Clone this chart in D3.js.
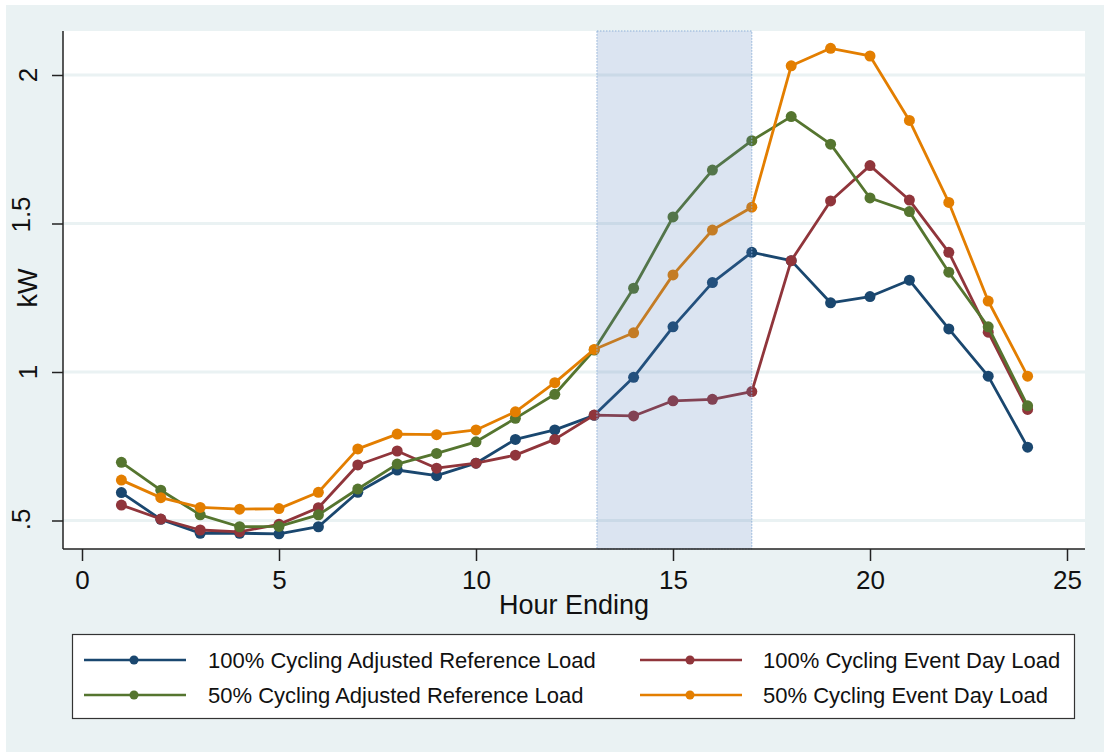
<!DOCTYPE html>
<html>
<head>
<meta charset="utf-8">
<script src="https://cdn.jsdelivr.net/npm/d3@7"></script>
<style>
  body { margin: 0; background: #ffffff; }
  text { font-family: "Liberation Sans", Arial, sans-serif; fill: #111; }
</style>
</head>
<body>
<div id="chart"></div>
<script>
// hours and the four load series (kW)
var hours = d3.range(1, 25);
var adj100 = [0.594, 0.504, 0.457, 0.457, 0.455, 0.479, 0.595, 0.670, 0.651, 0.693, 0.773, 0.805,
              0.854, 0.982, 1.152, 1.301, 1.403, 1.375, 1.233, 1.254, 1.309, 1.145, 0.986, 0.747];
var event100 = [0.552, 0.505, 0.468, 0.462, 0.487, 0.543, 0.687, 0.734, 0.676, 0.693, 0.720, 0.773,
                0.855, 0.852, 0.903, 0.908, 0.934, 1.375, 1.576, 1.695, 1.579, 1.403, 1.134, 0.874];
var adj50 = [0.696, 0.602, 0.519, 0.479, 0.480, 0.519, 0.606, 0.690, 0.726, 0.765, 0.844, 0.925,
             1.074, 1.282, 1.522, 1.680, 1.779, 1.860, 1.767, 1.586, 1.540, 1.336, 1.152, 0.886];
var event50 = [0.636, 0.577, 0.544, 0.538, 0.540, 0.595, 0.741, 0.791, 0.789, 0.805, 0.866, 0.964,
               1.076, 1.132, 1.327, 1.478, 1.555, 2.031, 2.090, 2.064, 1.847, 1.571, 1.239, 0.986];

var seriesNames = ["100% Cycling Adjusted Reference Load", "100% Cycling Event Day Load",
                   "50% Cycling Adjusted Reference Load", "50% Cycling Event Day Load"];
var seriesColors = ["#1a476f", "#90353b", "#55752f", "#e37e00"];
var seriesValues = [adj100, event100, adj50, event50];

var eventWindow = [13.07, 17];   // shaded event period
var xTicks = [0, 5, 10, 15, 20, 25];
var yTicks = [0.5, 1, 1.5, 2];
var yTickLabels = [".5", "1", "1.5", "2"];

var svgWidth = 1104, svgHeight = 752;
var plot = { left: 63, right: 1085, top: 31, bottom: 549 };

var svg = d3.select("#chart").append("svg")
  .attr("width", svgWidth)
  .attr("height", svgHeight);

// outer background
svg.append("rect")
  .attr("x", 6).attr("y", 5)
  .attr("width", svgWidth - 6).attr("height", svgHeight - 5)
  .attr("fill", "#eaf2f3");

// plot region
svg.append("rect")
  .attr("x", plot.left).attr("y", plot.top)
  .attr("width", plot.right - plot.left).attr("height", plot.bottom - plot.top)
  .attr("fill", "#ffffff");

var x = d3.scaleLinear().domain([0, 25]).range([82, 1067]);
var y = d3.scaleLinear().domain([0.5, 2]).range([520.5, 75]);

// grid lines
svg.append("g").selectAll("line")
  .data(yTicks).enter().append("line")
  .attr("x1", plot.left).attr("x2", plot.right)
  .attr("y1", d => y(d)).attr("y2", d => y(d))
  .attr("stroke", "#eaf2f3")
  .attr("stroke-width", 3);

// series lines and markers
var line = d3.line()
  .x((d, i) => x(hours[i]))
  .y(d => y(d));

seriesValues.forEach(function(vals, k) {
  var g = svg.append("g");
  g.append("path")
    .datum(vals)
    .attr("d", line)
    .attr("fill", "none")
    .attr("stroke", seriesColors[k])
    .attr("stroke-width", 2.8)
    .attr("stroke-linejoin", "round");
  g.selectAll("circle")
    .data(vals).enter().append("circle")
    .attr("cx", (d, i) => x(hours[i]))
    .attr("cy", d => y(d))
    .attr("r", 5.5)
    .attr("fill", seriesColors[k]);
});

// shaded event window (drawn on top)
svg.append("rect")
  .attr("x", x(eventWindow[0]))
  .attr("y", plot.top)
  .attr("width", x(eventWindow[1]) - x(eventWindow[0]))
  .attr("height", plot.bottom - plot.top)
  .attr("fill", "#4a78b8")
  .attr("fill-opacity", 0.2)
  .attr("stroke", "#8fb0d8")
  .attr("stroke-width", 1)
  .attr("stroke-dasharray", "1.5,1.5");

// axes
var bottomAxis = d3.axisBottom(x).tickValues(xTicks).tickSize(12).tickPadding(10).tickFormat(d3.format("d"));
var gx = svg.append("g")
  .attr("transform", `translate(0, ${plot.bottom})`)
  .call(bottomAxis);
gx.select(".domain").attr("d", `M${plot.left},0H${plot.right}`).attr("stroke", "#222").attr("stroke-width", 1.5);
gx.selectAll(".tick line").attr("stroke", "#222").attr("stroke-width", 1.5);
gx.selectAll(".tick text")
  .attr("font-size", "26px")
  .attr("font-family", "Liberation Sans, Arial, sans-serif")
  .attr("fill", "#111");

var leftAxis = d3.axisLeft(y).tickValues(yTicks).tickSize(11).tickFormat((d, i) => yTickLabels[i]);
var gy = svg.append("g")
  .attr("transform", `translate(${plot.left}, 0)`)
  .call(leftAxis);
gy.select(".domain").attr("d", `M0,${plot.top}V${plot.bottom}`).attr("stroke", "#222").attr("stroke-width", 1.5);
gy.selectAll(".tick line").attr("stroke", "#222").attr("stroke-width", 1.5);
gy.selectAll(".tick text").remove();

// rotated y tick labels; 1.5 and .5 sit further out towards the edge
var labelBase = { "2": 37, "1": 37, "1.5": 30, ".5": 30 };
var labelShift = { "2": 0, "1": 0, "1.5": -9, ".5": -1 };
svg.append("g")
  .selectAll("text")
  .data(yTicks).enter().append("text")
  .attr("transform", (d, i) => `translate(${labelBase[yTickLabels[i]]}, ${y(d) + labelShift[yTickLabels[i]]}) rotate(-90)`)
  .attr("text-anchor", "middle")
  .attr("font-size", "26px")
  .text((d, i) => yTickLabels[i]);

// axis titles
svg.append("text")
  .attr("transform", "translate(37, 288) rotate(-90)")
  .attr("text-anchor", "middle")
  .attr("font-size", "27px")
  .text("kW");

svg.append("text")
  .attr("x", (plot.left + plot.right) / 2)
  .attr("y", 614)
  .attr("text-anchor", "middle")
  .attr("font-size", "27px")
  .text("Hour Ending");

// legend
var legend = svg.append("g");
legend.append("rect")
  .attr("x", 72.5).attr("y", 634.5)
  .attr("width", 1002).attr("height", 84)
  .attr("fill", "#ffffff")
  .attr("stroke", "#333")
  .attr("stroke-width", 1.2);

var legendPos = [
  { lx: 84, tx: 208, y: 660 },
  { lx: 640, tx: 763, y: 660 },
  { lx: 84, tx: 208, y: 695 },
  { lx: 640, tx: 763, y: 695 }
];

legendPos.forEach(function(p, k) {
  legend.append("line")
    .attr("x1", p.lx).attr("x2", p.lx + 102)
    .attr("y1", p.y).attr("y2", p.y)
    .attr("stroke", seriesColors[k])
    .attr("stroke-width", 2.5);
  legend.append("circle")
    .attr("cx", p.lx + 50).attr("cy", p.y)
    .attr("r", 4.5)
    .attr("fill", seriesColors[k]);
  legend.append("text")
    .attr("x", p.tx).attr("y", p.y + 8)
    .attr("font-size", "22px")
    .text(seriesNames[k]);
});
</script>
</body>
</html>
